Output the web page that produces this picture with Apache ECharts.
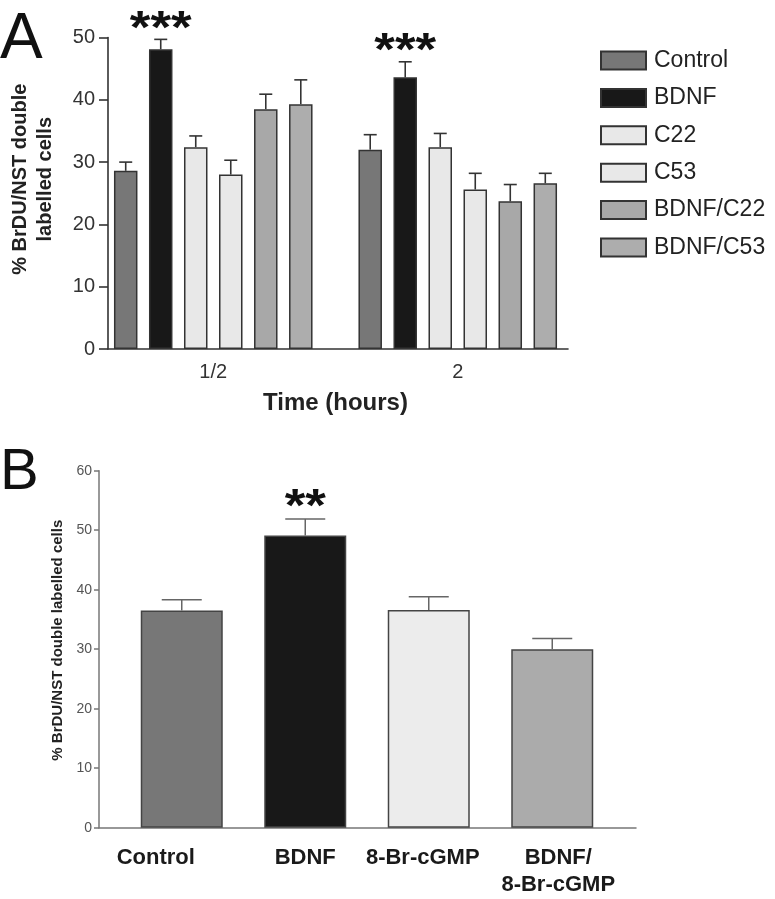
<!DOCTYPE html>
<html>
<head>
<meta charset="utf-8">
<script src="https://cdn.jsdelivr.net/npm/echarts@6/dist/echarts.min.js"></script>
<style>
html,body{margin:0;padding:0;background:#fff;}
#c{width:775px;height:899px;}
</style>
</head>
<body>
<div id="c"></div>
<script>
// ---------- Panel A data ----------
const groupsA = ['1/2', '2'];
const seriesNamesA = ['Control', 'BDNF', 'C22', 'C53', 'BDNF/C22', 'BDNF/C53'];
const controlA = [28.6, 32.0];
const bdnfA = [48.1, 43.6];
const c22A = [32.4, 32.4];
const c53A = [28.0, 25.6];
const bdnfC22A = [38.5, 23.7];
const bdnfC53A = [39.3, 26.6];
const controlErrA = [1.4, 2.4];
const bdnfErrA = [1.6, 2.5];
const c22ErrA = [1.8, 2.2];
const c53ErrA = [2.3, 2.6];
const bdnfC22ErrA = [2.4, 2.7];
const bdnfC53ErrA = [3.9, 1.6];
const starsBdnfA = ['***', '***'];
const yTicksA = [0, 10, 20, 30, 40, 50];

// ---------- Panel B data ----------
const categoriesB = ['Control', 'BDNF', '8-Br-cGMP', 'BDNF/\n8-Br-cGMP'];
const meansB = [36.5, 49.1, 36.6, 30.0];
const errB = [1.8, 2.8, 2.2, 1.8];
const starsB = ['', '**', '', ''];
const yTicksB = [0, 10, 20, 30, 40, 50, 60];

// ---------- styles ----------
const FONT = '"Liberation Sans", Arial, Helvetica, sans-serif';
const colorsA = ['#777777', '#181818', '#e8e8e8', '#e8e8e8', '#a8a8a8', '#adadad'];
const colorsB = ['#777777', '#181818', '#ececec', '#ababab'];
const labelNudgeB = [-26, 0, -6, 6];
const BAR_W_A = 23.5, BAR_GAP_A = 0.49;
const BAR_W_B = 82;
const STAR_DROP = 13.5;

const valuesA = [controlA, bdnfA, c22A, c53A, bdnfC22A, bdnfC53A];
const errsA = [controlErrA, bdnfErrA, c22ErrA, c53ErrA, bdnfC22ErrA, bdnfC53ErrA];

const errDataA = [];
groupsA.forEach((g, gi) => {
  valuesA.forEach((vals, si) => {
    errDataA.push([gi, si, vals[gi], errsA[si][gi]]);
  });
});
const starDataA = groupsA.map((g, gi) => [gi, 1, bdnfA[gi] + bdnfErrA[gi], starsBdnfA[gi]]);

const errDataB = meansB.map((m, i) => [i, m, errB[i]]);
const starDataB = meansB.map((m, i) => [i, m + errB[i], starsB[i]]).filter(d => d[2]);

const strideA = BAR_W_A * (1 + BAR_GAP_A);
const nA = seriesNamesA.length;

function errRenderA(params, api) {
  const g = api.value(0), s = api.value(1), m = api.value(2), e = api.value(3);
  const base = api.coord([g, m]);
  const top = api.coord([g, m + e]);
  const x = base[0] + (s - (nA - 1) / 2) * strideA;
  const st = { stroke: '#333', lineWidth: 1.6 };
  return { type: 'group', children: [
    { type: 'line', shape: { x1: x, y1: base[1], x2: x, y2: top[1] }, style: st },
    { type: 'line', shape: { x1: x - 6.5, y1: top[1], x2: x + 6.5, y2: top[1] }, style: st }
  ]};
}
function starText(x, y, text) {
  return { type: 'text', x: x, y: y, scaleX: 1.15, style: {
    text: text, font: 'bold 46px ' + FONT,
    align: 'center', verticalAlign: 'bottom', fill: '#111' } };
}
function starRenderA(params, api) {
  const g = api.value(0), s = api.value(1), t = api.value(2);
  const p = api.coord([g, t]);
  const x = p[0] + (s - (nA - 1) / 2) * strideA;
  return starText(x, p[1] + STAR_DROP, starDataA[params.dataIndex][3]);
}
function errRenderB(params, api) {
  const i = api.value(0), m = api.value(1), e = api.value(2);
  const base = api.coord([i, m]);
  const top = api.coord([i, m + e]);
  const x = base[0];
  const st = { stroke: '#666', lineWidth: 1.5 };
  return { type: 'group', children: [
    { type: 'line', shape: { x1: x, y1: base[1], x2: x, y2: top[1] }, style: st },
    { type: 'line', shape: { x1: x - 20, y1: top[1], x2: x + 20, y2: top[1] }, style: st }
  ]};
}
function starRenderB(params, api) {
  const i = api.value(0), t = api.value(1);
  const p = api.coord([i, t]);
  return starText(p[0], p[1] + STAR_DROP - 1, starDataB[params.dataIndex][2]);
}

const gridA = { top: 37.5, height: 311.5 };
const gridB = { top: 470.7, height: 357 };

const option = {
  animation: false,
  backgroundColor: '#fff',
  textStyle: { fontFamily: FONT },
  title: [
    { text: 'A', left: 0, top: 8, padding: 0, textStyle: { fontSize: 64, fontWeight: 'normal', color: '#111', fontFamily: FONT } },
    { text: 'B', left: 0, top: 444, padding: 0, textStyle: { fontSize: 58, fontWeight: 'normal', color: '#111', fontFamily: FONT } }
  ],
  legend: {
    data: seriesNamesA,
    orient: 'vertical',
    left: 600, top: 49,
    itemWidth: 45, itemHeight: 18, itemGap: 14.4,
    icon: 'rect',
    padding: 0,
    textStyle: { fontSize: 23, color: '#222', fontFamily: FONT, padding: [0, 0, 0, 3] }
  },
  grid: [
    { left: 103, width: 465, top: gridA.top, height: gridA.height },
    { left: 91, width: 489, top: gridA.top, height: gridA.height },
    { left: 99, width: 537, top: gridB.top, height: gridB.height },
    { left: 120, width: 494, top: gridB.top, height: gridB.height }
  ],
  xAxis: [
    { gridIndex: 0, type: 'value', min: 0, max: 1, axisLine: { show: true, onZero: false, lineStyle: { color: '#333', width: 1.6 } },
      axisTick: { show: false }, axisLabel: { show: false }, splitLine: { show: false } },
    { gridIndex: 1, type: 'category', data: groupsA, axisLine: { show: false }, axisTick: { show: false },
      axisLabel: { fontSize: 20, color: '#333', margin: 13, fontFamily: FONT },
      name: 'Time (hours)', nameLocation: 'middle', nameGap: 42,
      nameTextStyle: { fontSize: 24, fontWeight: 'bold', color: '#222', fontFamily: FONT } },
    { gridIndex: 2, type: 'value', min: 0, max: 1, axisLine: { show: true, onZero: false, lineStyle: { color: '#777', width: 1.5 } },
      axisTick: { show: false }, axisLabel: { show: false }, splitLine: { show: false } },
    { gridIndex: 3, type: 'category',
      data: categoriesB.map((c, i) => ({ value: c, textStyle: { padding: labelNudgeB[i] < 0 ? [0, -2 * labelNudgeB[i], 0, 0] : [0, 0, 0, 2 * labelNudgeB[i]] } })),
      axisLine: { show: false }, axisTick: { show: false },
      axisLabel: { fontSize: 22, fontWeight: 'bold', color: '#1a1a1a', margin: 17, lineHeight: 27, fontFamily: FONT, interval: 0 } }
  ],
  yAxis: [
    { gridIndex: 0, type: 'value', min: yTicksA[0], max: yTicksA[yTicksA.length - 1], interval: yTicksA[1] - yTicksA[0],
      axisLine: { show: true, lineStyle: { color: '#333', width: 1.6 } },
      axisTick: { show: true, length: 9, lineStyle: { color: '#333', width: 1.6 } },
      axisLabel: { fontSize: 20, color: '#333', margin: 13, fontFamily: FONT },
      splitLine: { show: false },
      name: '% BrDU/NST double\nlabelled cells', nameLocation: 'middle', nameGap: 50,
      nameTextStyle: { fontSize: 20, fontWeight: 'bold', color: '#222', lineHeight: 25, fontFamily: FONT, padding: [0, 0, 0, 28] } },
    { gridIndex: 1, type: 'value', min: yTicksA[0], max: yTicksA[yTicksA.length - 1], show: false },
    { gridIndex: 2, type: 'value', min: yTicksB[0], max: yTicksB[yTicksB.length - 1], interval: yTicksB[1] - yTicksB[0],
      axisLine: { show: true, lineStyle: { color: '#777', width: 1.5 } },
      axisTick: { show: true, length: 5, lineStyle: { color: '#777', width: 1.5 } },
      axisLabel: { fontSize: 14, color: '#555', margin: 7, fontFamily: FONT },
      splitLine: { show: false },
      name: '% BrDU/NST double labelled cells', nameLocation: 'middle', nameGap: 34,
      nameTextStyle: { fontSize: 15, fontWeight: 'bold', color: '#222', fontFamily: FONT, padding: [0, 0, 0, 18] } },
    { gridIndex: 3, type: 'value', min: yTicksB[0], max: yTicksB[yTicksB.length - 1], show: false }
  ],
  series: [
    ...seriesNamesA.map((name, si) => ({
      name: name, type: 'bar', xAxisIndex: 1, yAxisIndex: 1,
      data: valuesA[si], barWidth: BAR_W_A, barGap: (BAR_GAP_A * 100) + '%',
      itemStyle: { color: colorsA[si], borderColor: '#333', borderWidth: 1.5 }
    })),
    { name: 'errA', type: 'custom', xAxisIndex: 1, yAxisIndex: 1, data: errDataA, renderItem: errRenderA, z: 3 },
    { name: 'starsA', type: 'custom', xAxisIndex: 1, yAxisIndex: 1, data: starDataA.map(d => d.slice(0, 3)), renderItem: starRenderA, z: 4 },
    { name: 'panelB', type: 'bar', xAxisIndex: 3, yAxisIndex: 3, barWidth: BAR_W_B,
      data: meansB.map((v, i) => ({ value: v, itemStyle: { color: colorsB[i] } })),
      itemStyle: { borderColor: '#444', borderWidth: 1.5 } },
    { name: 'errB', type: 'custom', xAxisIndex: 3, yAxisIndex: 3, data: errDataB, renderItem: errRenderB, z: 3 },
    { name: 'starsB', type: 'custom', xAxisIndex: 3, yAxisIndex: 3, data: starDataB.map(d => d.slice(0, 2)), renderItem: starRenderB, z: 4 }
  ]
};

const chart = echarts.init(document.getElementById('c'), null, { renderer: 'canvas' });
chart.setOption(option);
</script>
</body>
</html>
